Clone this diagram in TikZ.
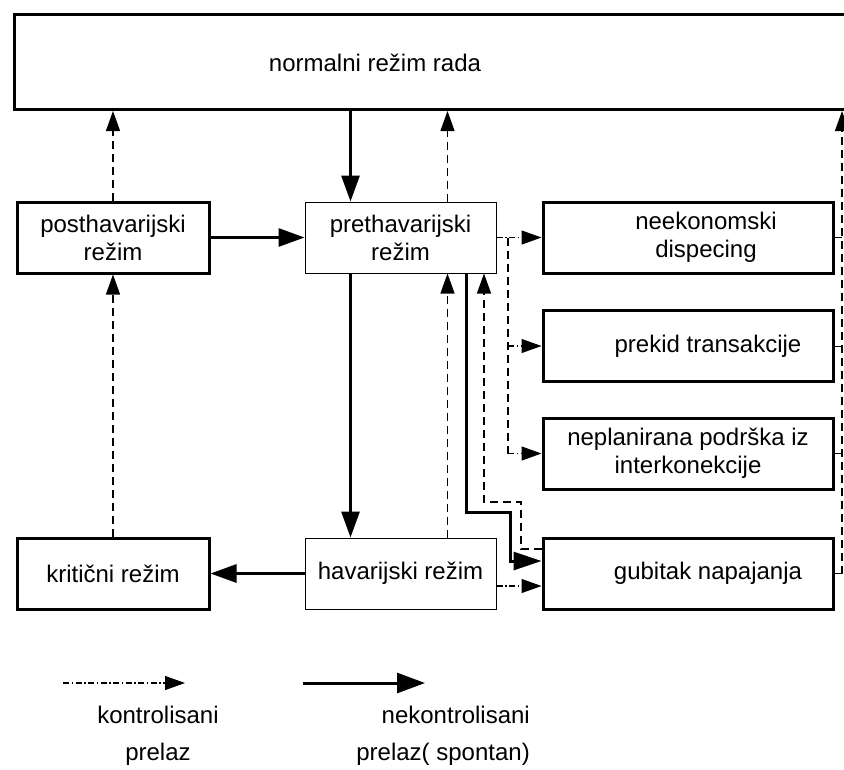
\documentclass[tikz,border=0pt]{standalone}
\usepackage{fontspec}
\setmainfont{Liberation Sans}
\usetikzlibrary{arrows.meta}

\begin{document}
\begin{tikzpicture}[x=1pt,y=-1pt,
    every node/.style={font=\fontsize{24}{28}\selectfont,inner sep=0pt,align=center},
    mode/.style={draw,line width=3pt,minimum height=71pt},
    modethin/.style={draw,line width=1pt,minimum width=191pt,minimum height=71pt},
    spont/.style={line width=3pt,-{Triangle[length=26pt,width=18pt]}},
    ctrl/.style={line width=1.2pt,dash pattern=on 8pt off 5pt},
    ctrldot/.style={line width=1.2pt,dash pattern=on 6pt off 2.5pt on 1.5pt off 2.5pt},
    tip/.style={-{Triangle[length=20pt,width=14pt]}}]
    \useasboundingbox (0,0) rectangle (844,769);
    \clip (0,0) rectangle (844,769);
    % normalni rezim rada, cut off on the right
    \node[mode,minimum width=870pt,minimum height=95pt,anchor=north west] (normal) at (13,13) {};
    \node (normal-t) at (375,63) {normalni režim rada};
    % left column and middle column
    \node[mode,minimum width=192pt] (post) at (113,237.5) {posthavarijski\\režim};
    \node[mode,minimum width=192pt] (krit) at (113,573.5) {kritični režim};
    \node[modethin] (pre) at (400.5,237.5) {prethavarijski\\režim};
    \node[modethin] (hav) at (400.5,573.5) {havarijski režim};
    % right column
    \node[mode,minimum width=290pt] (neko) at (688,237.5) {};
    \node (neko-t) at (706,237.5) {neekonomski\\dispecing};
    \node[mode,minimum width=290pt] (prek) at (688,346) {};
    \node (prek-t) at (708,346) {prekid transakcije};
    \node[mode,minimum width=290pt] (nepl) at (688,453.5) {neplanirana podrška iz\\interkonekcije};
    \node[mode,minimum width=290pt] (gub) at (688,573.5) {};
    \node (gub-t) at (708,573.5) {gubitak napajanja};
    % spontani prelazi
    \draw[spont] ([xshift=-50pt]pre.north |- normal.south) -- ([xshift=-50pt]pre.north);
    \draw[spont] (post.east) -- (pre.west);
    \draw[spont] ([xshift=-50pt]pre.south) -- ([xshift=-50pt]hav.north);
    \draw[spont] (hav.west) -- (krit.east);
    \draw[spont,-{Triangle[length=28pt,width=18pt]}] ([xshift=66pt]pre.south) |- (510,512) |- ([yshift=12.5pt]gub.west);
    % kontrolisani prelazi
    \draw[ctrl,tip] (post.north) -- (post.north |- normal.south);
    \draw[ctrl,tip] ([xshift=47pt]pre.north) -- ([xshift=47pt]pre.north |- normal.south);
    \draw[ctrl,tip] (krit.north) -- (post.south);
    \draw[ctrl,tip] ([xshift=47pt]hav.north) -- ([xshift=47pt]pre.south);
    \draw[ctrl,tip] ([yshift=24.5pt]gub.west) -| (521,502) -| ([xshift=83.5pt]pre.south);
    \draw[ctrldot,tip] (pre.east) -- (neko.west);
    \coordinate (split) at (508,237.5);
    \draw[ctrl] (split) -- (split |- nepl.west);
    \draw[ctrldot,tip] (split |- prek.west) -- (prek.west);
    \draw[ctrldot,tip] (split |- nepl.west) -- (nepl.west);
    \draw[ctrldot,tip] ([yshift=-12.5pt]hav.east) -- ([yshift=-12.5pt]gub.west);
    % povratak u normalni rezim
    \coordinate (rail) at (842,0);
    \foreach \b in {neko,prek,nepl,gub}
        \draw[line width=1pt] (\b.east) -- (\b.east -| rail);
    \draw[ctrl,tip] (gub.east -| rail) -- (rail |- normal.south);
    % legenda
    \coordinate (lg1a) at (63,683);
    \coordinate (lg1b) at (185,683);
    \coordinate (lg2a) at (303,683);
    \coordinate (lg2b) at (425,683);
    \draw[ctrldot,tip] (lg1a) -- (lg1b);
    \draw[spont,-{Triangle[length=28pt,width=20pt]}] (lg2a) -- (lg2b);
    \node (lg1-t) at (158,736) {kontrolisani\\[9pt]prelaz};
    \node[align=right,anchor=east] (lg2-t) at (530,736) {nekontrolisani\\[9pt]prelaz( spontan)};
\end{tikzpicture}
\end{document}
